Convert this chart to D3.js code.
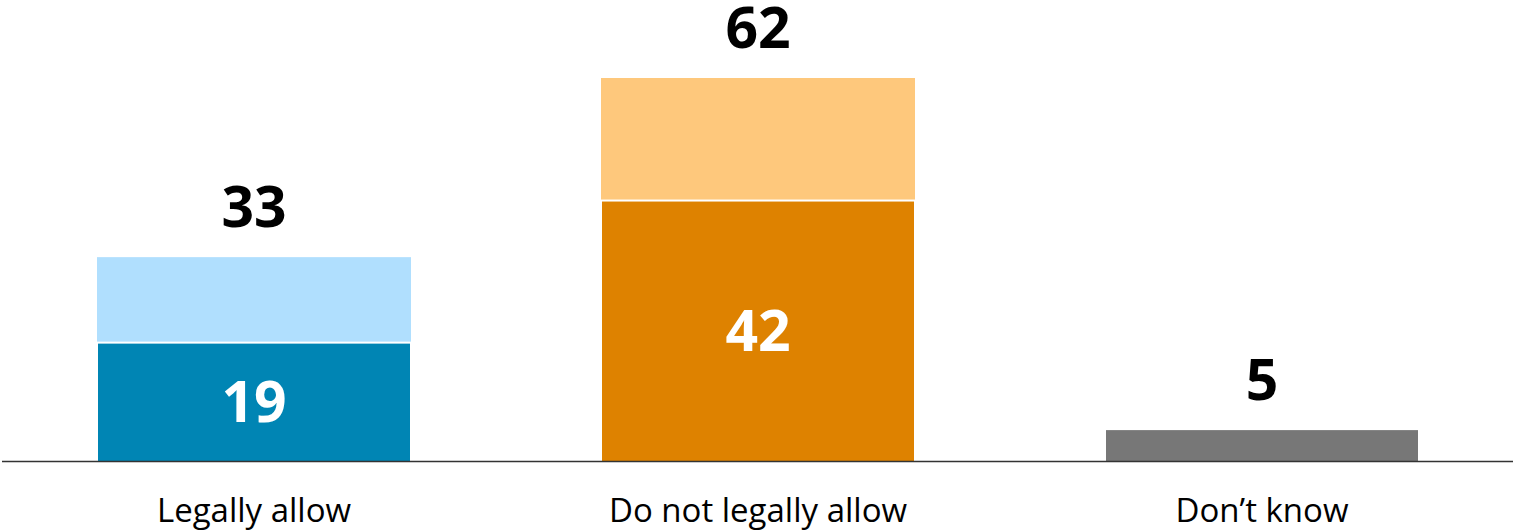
<!DOCTYPE html>
<html>
<head>
<meta charset="utf-8">
<script src="https://cdn.jsdelivr.net/npm/d3@7"></script>
<style>
  body { margin: 0; background: #fff; }
  text { font-family: "Open Sans", "Noto Sans", sans-serif; }
</style>
</head>
<body>
<div id="chart"></div>
<script>
// Chart data
const categories = ['Legally allow', 'Do not legally allow', "Don\u2019t know"];
const strongValues = [19, 42, 5];   // bottom (dark) segment
const totalValues = [33, 62, 5];    // full bar height
const showInner = [true, true, false];
const darkColors = ['#0085b4', '#de8200', '#777777'];
const lightColors = ['#b0dffe', '#fec87c', '#777777'];

const width = 1513, height = 530;
const baseline = 461;

const svg = d3.select('#chart').append('svg')
  .attr('width', width)
  .attr('height', height);

const x = d3.scaleBand()
  .domain(categories)
  .range([2, width + 1])
  .paddingInner(0.377)
  .paddingOuter(0.1885);

const y = d3.scaleLinear()
  .domain([0, 62])
  .range([baseline, 78]);

const rows = categories.map((c, i) => ({
  cat: c,
  strong: strongValues[i],
  total: totalValues[i],
  inner: showInner[i],
  dark: darkColors[i],
  light: lightColors[i]
}));

// light (upper) segment
svg.selectAll('.top')
  .data(rows.filter(d => d.total > d.strong))
  .enter().append('rect')
  .attr('class', 'top')
  .attr('x', d => x(d.cat))
  .attr('width', x.bandwidth())
  .attr('y', d => y(d.total))
  .attr('height', d => y(d.strong) - y(d.total) - 2)
  .attr('fill', d => d.light);

// dark (lower) segment
svg.selectAll('.bottom')
  .data(rows)
  .enter().append('rect')
  .attr('class', 'bottom')
  .attr('x', d => x(d.cat) + 1)
  .attr('width', x.bandwidth() - 2)
  .attr('y', d => y(d.strong))
  .attr('height', d => y(0) - y(d.strong))
  .attr('fill', d => d.dark);

// baseline
svg.append('line')
  .attr('x1', 2).attr('x2', width)
  .attr('y1', baseline + 0.5).attr('y2', baseline + 0.5)
  .attr('stroke', '#333')
  .attr('stroke-width', 1.5);

// totals above bars
svg.selectAll('.total')
  .data(rows)
  .enter().append('text')
  .attr('class', 'total')
  .attr('x', d => x(d.cat) + x.bandwidth() / 2)
  .attr('y', d => y(d.total) - 30)
  .attr('text-anchor', 'middle')
  .attr('font-size', 57)
  .attr('font-weight', 700)
  .attr('fill', '#000')
  .text(d => d.total);

// inner labels
svg.selectAll('.inner')
  .data(rows.filter(d => d.inner))
  .enter().append('text')
  .attr('class', 'inner')
  .attr('x', d => x(d.cat) + x.bandwidth() / 2)
  .attr('y', d => y(d.strong / 2) + 20)
  .attr('text-anchor', 'middle')
  .attr('font-size', 57)
  .attr('font-weight', 700)
  .attr('fill', '#fff')
  .text(d => d.strong);

// category axis
const axis = svg.append('g')
  .attr('transform', `translate(0,${baseline})`)
  .call(d3.axisBottom(x).tickSize(0).tickPadding(0));
axis.select('.domain').remove();
axis.selectAll('text')
  .attr('y', 61)
  .attr('dy', 0)
  .attr('font-size', 33)
  .attr('font-family', '"Open Sans", "Noto Sans", sans-serif')
  .attr('fill', '#000');
</script>
</body>
</html>
